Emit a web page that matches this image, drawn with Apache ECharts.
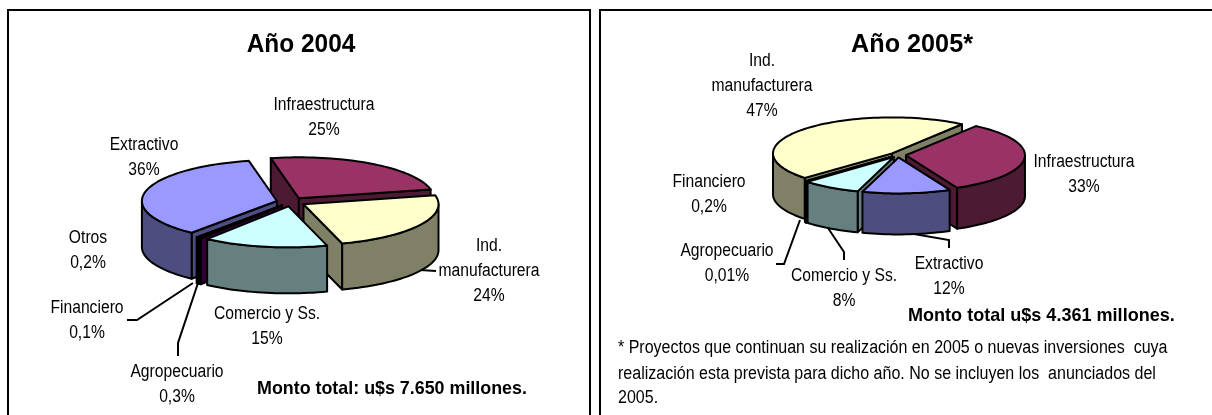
<!DOCTYPE html>
<html>
<head>
<meta charset="utf-8">
<style>
html, body { margin: 0; padding: 0; background: #fff; }
#main { width: 1212px; height: 415px; }
</style>
<script src="https://cdn.jsdelivr.net/npm/echarts@6/dist/echarts.min.js"></script>
</head>
<body>
<div id="main"></div>
<script>
// datos
var cats2004 = ["Infraestructura", "Ind.\nmanufacturera", "Comercio y Ss.", "Agropecuario", "Financiero", "Otros", "Extractivo"];
var vals2004 = [25, 24, 15, 0.3, 0.1, 0.2, 36];
var cats2005 = ["Infraestructura", "Extractivo", "Comercio y Ss.", "Agropecuario", "Financiero", "Ind.\nmanufacturera"];
var vals2005 = [33, 12, 8, 0.01, 0.2, 47];

// colores por categoria: [cara superior, lateral]
var colores = {
    "Infraestructura": ["#993366", "#4d1a33"],
    "Ind.\nmanufacturera": ["#ffffcc", "#808066"],
    "Comercio y Ss.": ["#ccffff", "#668080"],
    "Extractivo": ["#9999ff", "#4d4d80"],
    "Agropecuario": ["#660066", "#330033"],
    "Financiero": ["#000080", "#000040"],
    "Otros": ["#000000", "#000000"]
};

var FONT = '"Liberation Sans", Arial, sans-serif';

function pieSeries(cats, vals, geo) {
    var total = vals.reduce(function (s, v) { return s + v; }, 0);
    var ang = geo.start;
    var slices = cats.map(function (name, i) {
        var a1 = ang;
        ang += vals[i] / total * 360;
        return { name: name, value: vals[i], a1: a1, a2: ang, mid: (a1 + ang) / 2 };
    });
    // de atras hacia adelante
    slices.sort(function (p, q) {
        return -Math.cos(p.mid * Math.PI / 180) + Math.cos(q.mid * Math.PI / 180);
    });

    function renderItem(params) {
        var s = slices[params.dataIndex];
        var rad = Math.PI / 180;
        var ox = geo.cx + geo.explode * Math.sin(s.mid * rad);
        var oy = geo.cy - geo.explode * geo.ry / geo.rx * Math.cos(s.mid * rad);
        function rim(a) {
            return [ox + geo.rx * Math.sin(a * rad), oy - geo.ry * Math.cos(a * rad)];
        }
        function arc(a1, a2) {
            var pts = [];
            for (var a = a1; a < a2; a += 2) pts.push(rim(a));
            pts.push(rim(a2));
            return pts;
        }
        function down(p) {
            return [p[0], p[1] + geo.depth];
        }
        function face(points, color) {
            return {
                type: "polygon",
                shape: { points: points },
                style: { fill: color, stroke: "#000", lineWidth: geo.line, lineJoin: "round" }
            };
        }
        var top = colores[s.name][0];
        var side = colores[s.name][1];
        var apex = [ox, oy];
        var children = [];
        // caras radiales visibles
        if (Math.sin(s.a1 * rad) < 0) {
            children.push(face([apex, rim(s.a1), down(rim(s.a1)), down(apex)], side));
        }
        if (Math.sin(s.a2 * rad) > 0) {
            children.push(face([apex, rim(s.a2), down(rim(s.a2)), down(apex)], side));
        }
        // pared exterior, solo la mitad delantera
        for (var k = 0; k < 2; k++) {
            var w1 = Math.max(s.a1, 90 + k * 360);
            var w2 = Math.min(s.a2, 270 + k * 360);
            if (w2 > w1) {
                var upper = arc(w1, w2);
                children.push(face(upper.concat(upper.map(down).reverse()), side));
            }
        }
        children.push(face([apex].concat(arc(s.a1, s.a2)), top));
        return { type: "group", children: children };
    }

    return {
        type: "custom",
        coordinateSystem: "none",
        silent: true,
        animation: false,
        renderItem: renderItem,
        data: slices.map(function (s) { return { name: s.name, value: s.value }; })
    };
}

function pct(v) {
    return String(v).replace(".", ",") + "%";
}

// la fuente original es angosta: se comprime el texto en x
function texto(str, x, y, size, bold, squeeze, align) {
    return {
        type: "text",
        x: x,
        y: y,
        scaleX: squeeze,
        silent: true,
        style: {
            text: str,
            font: (bold ? "bold " : "") + size + "px " + FONT,
            fill: "#000",
            align: align,
            verticalAlign: "middle",
            lineHeight: 25
        }
    };
}

function labelTexts(cats, vals, pos) {
    return cats.map(function (name, i) {
        return texto(name + "\n" + pct(vals[i]), pos[i][0], pos[i][1], 18, false, 0.87, "center");
    });
}

function leader(points) {
    return {
        type: "polyline", silent: true,
        shape: { points: points },
        style: { stroke: "#000", lineWidth: 2, fill: null }
    };
}

function frame(points) {
    return {
        type: "polyline", silent: true, z: 10,
        shape: { points: points },
        style: { stroke: "#000", lineWidth: 2, fill: null }
    };
}

var pos2004 = [[324, 118], [489, 271], [267, 327], [177, 385], [87, 321], [88, 251], [144, 158]];
var pos2005 = [[1084, 175], [949, 277], [844, 289], [727, 264], [709, 195], [762, 86]];

var elements = [
    frame([[8, 416], [8, 10], [590, 10], [590, 416]]),
    frame([[600, 416], [600, 10], [1213, 10]]),
    leader([[127, 320], [137, 320], [193, 283]]),
    leader([[178, 356], [178, 343], [198, 283]]),
    leader([[436, 271], [420, 270]]),
    leader([[776, 264], [784, 264], [800, 220]]),
    leader([[844, 260], [844, 252], [828, 228]]),
    leader([[949, 248], [949, 240], [908, 233]]),
    texto("Año 2004", 301, 45, 26, true, 0.94, "center"),
    texto("Año 2005*", 912, 45, 26, true, 0.97, "center"),
    texto("Monto total: u$s 7.650 millones.", 257, 389, 19, true, 0.94, "left"),
    texto("Monto total u$s 4.361 millones.", 908, 316, 19, true, 0.95, "left"),
    texto("* Proyectos que continuan su realización en 2005 o nuevas inversiones  cuya", 618, 348, 18, false, 0.89, "left"),
    texto("realización esta prevista para dicho año. No se incluyen los  anunciados del", 618, 374, 18, false, 0.89, "left"),
    texto("2005.", 618, 398, 18, false, 0.89, "left")
].concat(labelTexts(cats2004, vals2004, pos2004), labelTexts(cats2005, vals2005, pos2005));

var myChart = echarts.init(document.getElementById("main"), null, { renderer: "canvas" });
myChart.setOption({
    backgroundColor: "#fff",
    animation: false,
    graphic: { elements: elements },
    series: [
        pieSeries(cats2004, vals2004, { cx: 291, cy: 202, rx: 135, ry: 41, depth: 46, explode: 14.5, start: 348, line: 2 }),
        pieSeries(cats2005, vals2005, { cx: 898, cy: 155, rx: 119, ry: 36, depth: 41, explode: 8, start: 36, line: 2 })
    ]
});
</script>
</body>
</html>
